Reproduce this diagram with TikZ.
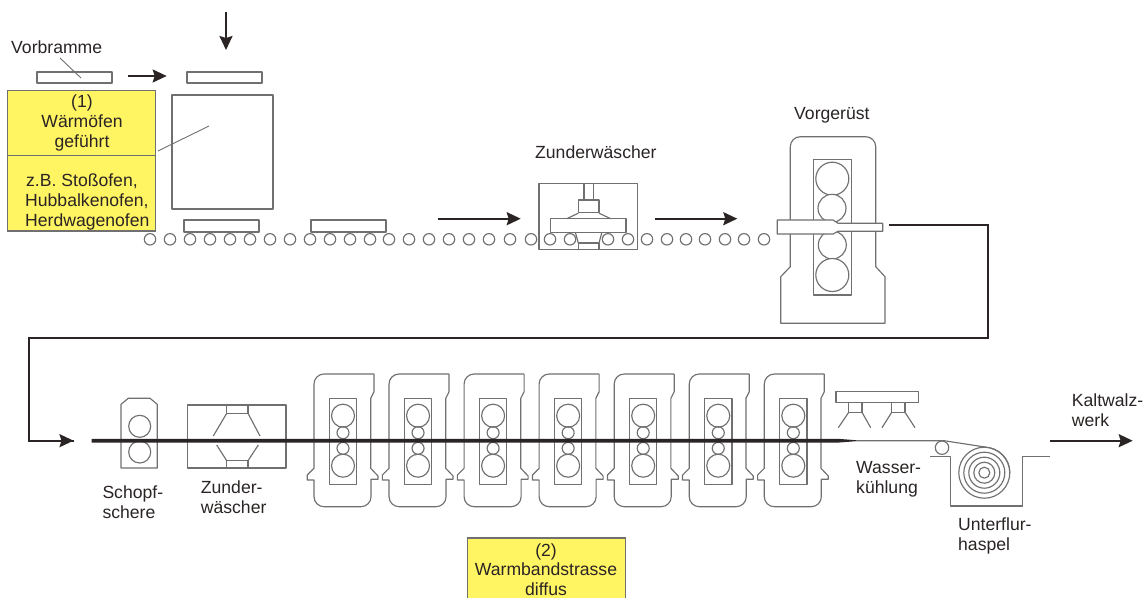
\documentclass[tikz,border=0pt]{standalone}
\usepackage{fontspec}
\setmainfont{Liberation Sans}
\usetikzlibrary{arrows.meta}
\definecolor{linegray}{HTML}{707070}
\definecolor{inkdark}{HTML}{2A2424}
\definecolor{labelyellow}{HTML}{FFF462}
\tikzset{
  part/.style={draw=linegray,line width=1.15pt,line join=round},
  roll/.style={draw=linegray,line width=1.15pt,fill=white},
  leader/.style={draw=linegray,line width=0.9pt},
  flow/.style={draw=inkdark,line width=2pt,-{Stealth[length=14pt,width=13pt,inset=2pt]}},
  pipe/.style={draw=inkdark,line width=1.8pt},
  yellowbox/.style={draw=linegray,line width=1.2pt,fill=labelyellow},
  txt/.style={inkdark,anchor=base west,inner sep=0pt,font=\fontsize{17.6}{20}\selectfont},
  txtc/.style={inkdark,anchor=base,inner sep=0pt,font=\fontsize{17.6}{20}\selectfont},
}
\newcommand{\twolines}[2]{\begin{tabular}[t]{@{}l@{}}#1\\#2\end{tabular}}
\begin{document}
\begin{tikzpicture}[x=1pt,y=-1pt]
\useasboundingbox (0,0) rectangle (1148,597);
\fill[white] (0,0) rectangle (1148,597);

% yellow boxes
\fill[labelyellow] (467.5,538) rectangle (625.5,597);
\draw[yellowbox] (467.5,600) -- (467.5,538) -- (625.5,538) -- (625.5,600);
\draw[yellowbox] (7.5,90.5) rectangle (155.5,231);
\draw[draw=linegray,line width=1pt] (7.5,155) -- (155.5,155);

% top slabs and furnace
\draw[part] (37,72) rectangle (112,83);
\draw[part] (187,72) rectangle (262,83);
\draw[part] (172,95) rectangle (273,209);
\draw[part] (184,220) rectangle (259,232);
\draw[part] (311,220) rectangle (386,232);

% leaders
\coordinate (vbA) at (60,58); \coordinate (vbB) at (81,78);
\coordinate (ofA) at (158,151); \coordinate (ofB) at (209,126);
\draw[leader] (vbA) -- (vbB);
\draw[leader] (ofA) -- (ofB);

% Zunderwaescher 1
\draw[part] (539,183.7) rectangle (637.7,249.3);
\draw[part] (584,183.7) -- (584,200) (593.7,183.7) -- (593.7,200);
\draw[part] (578.3,200) rectangle (599,212.7);
\draw[part] (566.7,218.7) -- (578.3,213.2) (599,213.2) -- (610.7,218.7);
\draw[part] (550.7,218.7) rectangle (626,232.7);
\draw[part] (575.5,233) -- (578.3,243) (601.7,233) -- (599,243);
\draw[part] (578.3,243) rectangle (599,249.3);

% roller table
\foreach \rx in {150,170,190,210,230,250,270,290,310,330,350,370,389,409,429,449,469,489,510,531,550,570,608,628,647,667,686,705,725,744,764}
  \draw[roll] (\rx,239.3) circle (5.7);

% Vorgeruest
\draw[part,rounded corners=10pt] (790.3,200) -- (790.3,136.7) -- (875.7,136.7) -- (875.7,200);
\draw[part] (790.3,200) -- (790.3,266.7) -- (780.7,276.7) -- (780.7,323.3) -- (885,323.3) -- (885,276.7) -- (875.7,266.7) -- (875.7,200);
\draw[part] (813.3,159.7) rectangle (851.7,295);
\draw[roll] (832.3,178.7) circle (16.5);
\draw[roll] (832,208.3) circle (14);
\draw[roll] (832.3,245) circle (14);
\draw[roll] (832.3,275) circle (16.5);
\draw[part,fill=white] (777.3,220) -- (833,220) -- (838,223.3) -- (882.7,223.3) -- (882.7,231.3) -- (838,231.3) -- (833,234) -- (777.3,234) -- cycle;

% connector from Vorgeruest to Schopfschere
\coordinate (cA) at (889,225); \coordinate (cB) at (988,225);
\coordinate (cC) at (988,338); \coordinate (cD) at (29.3,338);
\coordinate (cE) at (29.3,440.7); \coordinate (cF) at (73.5,440.7);
\draw[pipe,line join=miter] (cA) -- (cB) -- (cC) -- (cD) -- (cE) -- (cF);
\draw[flow,line width=1.8pt] (cE) -- (cF);

% Schopfschere
\draw[part] (121,404.3) -- (128.3,398.3) -- (150,398.3) -- (157.3,404.3) -- (157.3,468) -- (121,468) -- cycle;
\draw[part] (139.7,426.3) circle (11);
\draw[part] (139.7,452) circle (11);

% Zunderwaescher 2
\draw[part] (187.3,405) rectangle (286,468);
\draw[part] (226.7,405) rectangle (248,413.3);
\draw[part] (226.7,460.7) rectangle (248,468);
\draw[part] (226.7,413.3) -- (213.3,436) (248,413.3) -- (260,436);
\draw[part] (226.7,460.7) -- (216.7,445) (248,460.7) -- (258.3,445);

% finishing stands
\foreach \sx in {0,75.05,150.1,225.15,300.2,375.25,450.3}{
  \begin{scope}[xshift=\sx pt]
    \draw[part,rounded corners=10pt] (374,374) -- (314,374) -- (314,420);
    \draw[part] (374,374) -- (374,391.7) -- (370.7,398.3) -- (370.7,468.3) -- (378,476) -- (378,479.3) -- (371,479.3) -- (371,490);
    \draw[part,rounded corners=10pt] (371,490) -- (371,506.7) -- (314,506.7) -- (314,490);
    \draw[part] (314,490) -- (314,480) -- (307.3,480) -- (307.3,475) -- (314,468.3) -- (314,420);
    \draw[part] (329.3,398.3) rectangle (356.7,484.3);
    \draw[part] (343,415.7) circle (11.5);
    \draw[part] (343,432.7) circle (6);
    \draw[part] (343,448.3) circle (6);
    \draw[part] (343,465.7) circle (11.5);
  \end{scope}
}

% water cooling
\draw[part] (836,391.7) rectangle (918.7,402.3);
\draw[part] (848.7,402.3) rectangle (862,412.3);
\draw[part] (891.7,402.3) rectangle (905,412.3);
\draw[part] (848.7,412.3) -- (838.3,427.7) (862,412.3) -- (870.7,427.7);
\draw[part] (891.7,412.3) -- (882,427.7) (905,412.3) -- (915,427.7);

% strip
\fill[inkdark] (91.7,438.8) -- (838,438.8) -- (856,440.2) -- (856,441.2) -- (838,442.6) -- (91.7,442.6) -- cycle;
\draw[part] (856,440.7) -- (944,440.7) -- (985,447);
\draw[part] (985,447) to[out=-5,in=90] (1009.8,472.7);

% coil and pit
\draw[part] (942,447.7) circle (6.7);
\foreach \cr in {25.5,20.5,15.5,10.5,5.5}
  \draw[part] (984.3,472.7) circle (\cr);
\draw[part] (930,456.7) -- (950.7,456.7) -- (950.7,506) -- (1022.3,506) -- (1022.3,456.7) -- (1050,456.7);

% flow arrows
\coordinate (a1s) at (128,76); \coordinate (a1e) at (166.7,76);
\coordinate (a2s) at (226,12); \coordinate (a2e) at (226,50);
\coordinate (a3s) at (438.3,218.7); \coordinate (a3e) at (520.7,218.7);
\coordinate (a4s) at (655,218.7); \coordinate (a4e) at (737.3,218.7);
\coordinate (a5s) at (1050,440.7); \coordinate (a5e) at (1132.7,440.7);
\draw[flow] (a1s) -- (a1e);
\draw[flow] (a2s) -- (a2e);
\draw[flow] (a3s) -- (a3e);
\draw[flow] (a4s) -- (a4e);
\draw[flow] (a5s) -- (a5e);

% labels
\node[txt] (vorbramme) at (11,53.5) {Vorbramme};
\node[txtc] (w1) at (82,107.5) {(1)};
\node[txtc] (w2) at (82,127.5) {Wärmöfen};
\node[txtc] (w3) at (82,147.5) {geführt};
\node[txt] (z1) at (26,186) {z.B. Stoßofen,};
\node[txt] (z2) at (25,206.5) {Hubbalkenofen,};
\node[txt] (z3) at (25,226.5) {Herdwagenofen};
\node[txt] (zw) at (535,158) {Zunderwäscher};
\node[txt] (vg) at (794,119) {Vorgerüst};
\node[txt] (kw) at (1071.7,406.7) {\twolines{Kaltwalz-}{werk}};
\node[txt] (wk) at (856,473) {\twolines{Wasser-}{kühlung}};
\node[txt] (uh) at (958,530.7) {\twolines{Unterflur-}{haspel}};
\node[txt] (ss) at (102.3,498) {\twolines{Schopf-}{schere}};
\node[txt] (zw2) at (200.7,493) {\twolines{Zunder-}{wäscher}};
\node[txtc] (b1) at (546,556.7) {(2)};
\node[txtc] (b2) at (546,575.5) {Warmbandstrasse};
\node[txtc] (b3) at (546,595) {diffus};
\end{tikzpicture}
\end{document}
